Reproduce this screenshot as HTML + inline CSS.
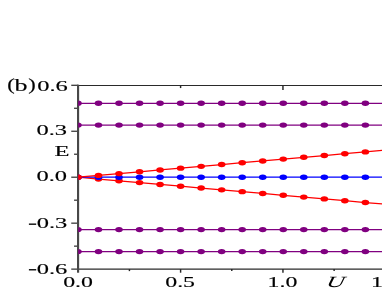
<!DOCTYPE html><html><head><meta charset="utf-8"><style>html,body{margin:0;padding:0;background:#fff;}svg{display:block}text{font-family:"Liberation Serif",serif;fill:#000}</style></head><body>
<svg width="382" height="300" viewBox="0 0 382 300">
<rect width="382" height="300" fill="#fff"/>
<g stroke="#2a2a2a" stroke-width="1.2" fill="none">
<line x1="78.25" y1="85.5" x2="382" y2="85.5" stroke-width="1.2"/>
<line x1="78.25" y1="269.0" x2="382" y2="269.0" stroke-width="1.25"/>
<line x1="71.25" y1="85.28" x2="78.25" y2="85.28"/>
<line x1="71.25" y1="131.24" x2="78.25" y2="131.24"/>
<line x1="71.25" y1="177.2" x2="78.25" y2="177.2"/>
<line x1="71.25" y1="223.15999999999997" x2="78.25" y2="223.15999999999997"/>
<line x1="71.25" y1="269.12" x2="78.25" y2="269.12"/>
<line x1="74.05" y1="108.25999999999999" x2="78.25" y2="108.25999999999999"/>
<line x1="74.05" y1="154.22" x2="78.25" y2="154.22"/>
<line x1="74.05" y1="200.17999999999998" x2="78.25" y2="200.17999999999998"/>
<line x1="74.05" y1="246.14" x2="78.25" y2="246.14"/>
</g>
<g stroke="#262626" stroke-width="1.45" fill="none">
<line x1="180.6" y1="269.12" x2="180.6" y2="272.72"/>
<line x1="282.95" y1="269.12" x2="282.95" y2="272.72"/>
<line x1="385.29999999999995" y1="269.12" x2="385.29999999999995" y2="272.72"/>
<line x1="129.425" y1="269.12" x2="129.425" y2="271.12"/>
<line x1="231.77499999999998" y1="269.12" x2="231.77499999999998" y2="271.12"/>
<line x1="334.125" y1="269.12" x2="334.125" y2="271.12"/>
<line x1="180.6" y1="85.28" x2="180.6" y2="88.08"/>
<line x1="282.95" y1="85.28" x2="282.95" y2="89.88"/>
<line x1="385.29999999999995" y1="85.28" x2="385.29999999999995" y2="88.08"/>
</g>
<line x1="78.07" y1="84.68" x2="78.07" y2="272.72" stroke="#484848" stroke-width="2.15"/>
<clipPath id="cp"><rect x="78.25" y="85.28" width="400" height="183.84"/></clipPath><g clip-path="url(#cp)">
<polyline fill="none" stroke="#800080" stroke-width="1.25" points="77.95,103.28 98.48,103.28 119.01,103.28 139.54,103.28 160.07,103.28 180.60,103.28 201.13,103.28 221.66,103.28 242.19,103.28 262.72,103.28 283.25,103.28 303.78,103.28 324.31,103.28 344.84,103.28 365.37,103.28 385.90,103.28"/>
<ellipse cx="77.95" cy="103.28" rx="3.8" ry="2.7" fill="#800080"/>
<ellipse cx="98.48" cy="103.28" rx="3.8" ry="2.7" fill="#800080"/>
<ellipse cx="119.01" cy="103.28" rx="3.8" ry="2.7" fill="#800080"/>
<ellipse cx="139.54" cy="103.28" rx="3.8" ry="2.7" fill="#800080"/>
<ellipse cx="160.07" cy="103.28" rx="3.8" ry="2.7" fill="#800080"/>
<ellipse cx="180.60" cy="103.28" rx="3.8" ry="2.7" fill="#800080"/>
<ellipse cx="201.13" cy="103.28" rx="3.8" ry="2.7" fill="#800080"/>
<ellipse cx="221.66" cy="103.28" rx="3.8" ry="2.7" fill="#800080"/>
<ellipse cx="242.19" cy="103.28" rx="3.8" ry="2.7" fill="#800080"/>
<ellipse cx="262.72" cy="103.28" rx="3.8" ry="2.7" fill="#800080"/>
<ellipse cx="283.25" cy="103.28" rx="3.8" ry="2.7" fill="#800080"/>
<ellipse cx="303.78" cy="103.28" rx="3.8" ry="2.7" fill="#800080"/>
<ellipse cx="324.31" cy="103.28" rx="3.8" ry="2.7" fill="#800080"/>
<ellipse cx="344.84" cy="103.28" rx="3.8" ry="2.7" fill="#800080"/>
<ellipse cx="365.37" cy="103.28" rx="3.8" ry="2.7" fill="#800080"/>
<ellipse cx="385.90" cy="103.28" rx="3.8" ry="2.7" fill="#800080"/>
<polyline fill="none" stroke="#800080" stroke-width="1.25" points="77.95,125.11 98.48,125.11 119.01,125.11 139.54,125.11 160.07,125.11 180.60,125.11 201.13,125.11 221.66,125.11 242.19,125.11 262.72,125.11 283.25,125.11 303.78,125.11 324.31,125.11 344.84,125.11 365.37,125.11 385.90,125.11"/>
<ellipse cx="77.95" cy="125.11" rx="3.8" ry="2.7" fill="#800080"/>
<ellipse cx="98.48" cy="125.11" rx="3.8" ry="2.7" fill="#800080"/>
<ellipse cx="119.01" cy="125.11" rx="3.8" ry="2.7" fill="#800080"/>
<ellipse cx="139.54" cy="125.11" rx="3.8" ry="2.7" fill="#800080"/>
<ellipse cx="160.07" cy="125.11" rx="3.8" ry="2.7" fill="#800080"/>
<ellipse cx="180.60" cy="125.11" rx="3.8" ry="2.7" fill="#800080"/>
<ellipse cx="201.13" cy="125.11" rx="3.8" ry="2.7" fill="#800080"/>
<ellipse cx="221.66" cy="125.11" rx="3.8" ry="2.7" fill="#800080"/>
<ellipse cx="242.19" cy="125.11" rx="3.8" ry="2.7" fill="#800080"/>
<ellipse cx="262.72" cy="125.11" rx="3.8" ry="2.7" fill="#800080"/>
<ellipse cx="283.25" cy="125.11" rx="3.8" ry="2.7" fill="#800080"/>
<ellipse cx="303.78" cy="125.11" rx="3.8" ry="2.7" fill="#800080"/>
<ellipse cx="324.31" cy="125.11" rx="3.8" ry="2.7" fill="#800080"/>
<ellipse cx="344.84" cy="125.11" rx="3.8" ry="2.7" fill="#800080"/>
<ellipse cx="365.37" cy="125.11" rx="3.8" ry="2.7" fill="#800080"/>
<ellipse cx="385.90" cy="125.11" rx="3.8" ry="2.7" fill="#800080"/>
<polyline fill="none" stroke="#800080" stroke-width="1.25" points="77.95,229.59 98.48,229.59 119.01,229.59 139.54,229.59 160.07,229.59 180.60,229.59 201.13,229.59 221.66,229.59 242.19,229.59 262.72,229.59 283.25,229.59 303.78,229.59 324.31,229.59 344.84,229.59 365.37,229.59 385.90,229.59"/>
<ellipse cx="77.95" cy="229.59" rx="3.8" ry="2.7" fill="#800080"/>
<ellipse cx="98.48" cy="229.59" rx="3.8" ry="2.7" fill="#800080"/>
<ellipse cx="119.01" cy="229.59" rx="3.8" ry="2.7" fill="#800080"/>
<ellipse cx="139.54" cy="229.59" rx="3.8" ry="2.7" fill="#800080"/>
<ellipse cx="160.07" cy="229.59" rx="3.8" ry="2.7" fill="#800080"/>
<ellipse cx="180.60" cy="229.59" rx="3.8" ry="2.7" fill="#800080"/>
<ellipse cx="201.13" cy="229.59" rx="3.8" ry="2.7" fill="#800080"/>
<ellipse cx="221.66" cy="229.59" rx="3.8" ry="2.7" fill="#800080"/>
<ellipse cx="242.19" cy="229.59" rx="3.8" ry="2.7" fill="#800080"/>
<ellipse cx="262.72" cy="229.59" rx="3.8" ry="2.7" fill="#800080"/>
<ellipse cx="283.25" cy="229.59" rx="3.8" ry="2.7" fill="#800080"/>
<ellipse cx="303.78" cy="229.59" rx="3.8" ry="2.7" fill="#800080"/>
<ellipse cx="324.31" cy="229.59" rx="3.8" ry="2.7" fill="#800080"/>
<ellipse cx="344.84" cy="229.59" rx="3.8" ry="2.7" fill="#800080"/>
<ellipse cx="365.37" cy="229.59" rx="3.8" ry="2.7" fill="#800080"/>
<ellipse cx="385.90" cy="229.59" rx="3.8" ry="2.7" fill="#800080"/>
<polyline fill="none" stroke="#800080" stroke-width="1.25" points="77.95,251.59 98.48,251.59 119.01,251.59 139.54,251.59 160.07,251.59 180.60,251.59 201.13,251.59 221.66,251.59 242.19,251.59 262.72,251.59 283.25,251.59 303.78,251.59 324.31,251.59 344.84,251.59 365.37,251.59 385.90,251.59"/>
<ellipse cx="77.95" cy="251.59" rx="3.8" ry="2.7" fill="#800080"/>
<ellipse cx="98.48" cy="251.59" rx="3.8" ry="2.7" fill="#800080"/>
<ellipse cx="119.01" cy="251.59" rx="3.8" ry="2.7" fill="#800080"/>
<ellipse cx="139.54" cy="251.59" rx="3.8" ry="2.7" fill="#800080"/>
<ellipse cx="160.07" cy="251.59" rx="3.8" ry="2.7" fill="#800080"/>
<ellipse cx="180.60" cy="251.59" rx="3.8" ry="2.7" fill="#800080"/>
<ellipse cx="201.13" cy="251.59" rx="3.8" ry="2.7" fill="#800080"/>
<ellipse cx="221.66" cy="251.59" rx="3.8" ry="2.7" fill="#800080"/>
<ellipse cx="242.19" cy="251.59" rx="3.8" ry="2.7" fill="#800080"/>
<ellipse cx="262.72" cy="251.59" rx="3.8" ry="2.7" fill="#800080"/>
<ellipse cx="283.25" cy="251.59" rx="3.8" ry="2.7" fill="#800080"/>
<ellipse cx="303.78" cy="251.59" rx="3.8" ry="2.7" fill="#800080"/>
<ellipse cx="324.31" cy="251.59" rx="3.8" ry="2.7" fill="#800080"/>
<ellipse cx="344.84" cy="251.59" rx="3.8" ry="2.7" fill="#800080"/>
<ellipse cx="365.37" cy="251.59" rx="3.8" ry="2.7" fill="#800080"/>
<ellipse cx="385.90" cy="251.59" rx="3.8" ry="2.7" fill="#800080"/>
<polyline fill="none" stroke="#ff0000" stroke-width="1.25" points="77.95,177.20 98.48,179.01 119.01,180.82 139.54,182.62 160.07,184.43 180.60,186.24 201.13,188.05 221.66,189.85 242.19,191.66 262.72,193.47 283.25,195.28 303.78,197.09 324.31,198.89 344.84,200.70 365.37,202.51 385.90,204.32"/>
<ellipse cx="77.95" cy="177.20" rx="3.8" ry="2.7" fill="#ff0000"/>
<ellipse cx="98.48" cy="179.01" rx="3.8" ry="2.7" fill="#ff0000"/>
<ellipse cx="119.01" cy="180.82" rx="3.8" ry="2.7" fill="#ff0000"/>
<ellipse cx="139.54" cy="182.62" rx="3.8" ry="2.7" fill="#ff0000"/>
<ellipse cx="160.07" cy="184.43" rx="3.8" ry="2.7" fill="#ff0000"/>
<ellipse cx="180.60" cy="186.24" rx="3.8" ry="2.7" fill="#ff0000"/>
<ellipse cx="201.13" cy="188.05" rx="3.8" ry="2.7" fill="#ff0000"/>
<ellipse cx="221.66" cy="189.85" rx="3.8" ry="2.7" fill="#ff0000"/>
<ellipse cx="242.19" cy="191.66" rx="3.8" ry="2.7" fill="#ff0000"/>
<ellipse cx="262.72" cy="193.47" rx="3.8" ry="2.7" fill="#ff0000"/>
<ellipse cx="283.25" cy="195.28" rx="3.8" ry="2.7" fill="#ff0000"/>
<ellipse cx="303.78" cy="197.09" rx="3.8" ry="2.7" fill="#ff0000"/>
<ellipse cx="324.31" cy="198.89" rx="3.8" ry="2.7" fill="#ff0000"/>
<ellipse cx="344.84" cy="200.70" rx="3.8" ry="2.7" fill="#ff0000"/>
<ellipse cx="365.37" cy="202.51" rx="3.8" ry="2.7" fill="#ff0000"/>
<ellipse cx="385.90" cy="204.32" rx="3.8" ry="2.7" fill="#ff0000"/>
<polyline fill="none" stroke="#0000ff" stroke-width="1.25" points="77.95,177.20 98.48,177.20 119.01,177.20 139.54,177.20 160.07,177.20 180.60,177.20 201.13,177.20 221.66,177.20 242.19,177.20 262.72,177.20 283.25,177.20 303.78,177.20 324.31,177.20 344.84,177.20 365.37,177.20 385.90,177.20"/>
<ellipse cx="77.95" cy="177.20" rx="3.8" ry="2.7" fill="#0000ff"/>
<ellipse cx="98.48" cy="177.20" rx="3.8" ry="2.7" fill="#0000ff"/>
<ellipse cx="119.01" cy="177.20" rx="3.8" ry="2.7" fill="#0000ff"/>
<ellipse cx="139.54" cy="177.20" rx="3.8" ry="2.7" fill="#0000ff"/>
<ellipse cx="160.07" cy="177.20" rx="3.8" ry="2.7" fill="#0000ff"/>
<ellipse cx="180.60" cy="177.20" rx="3.8" ry="2.7" fill="#0000ff"/>
<ellipse cx="201.13" cy="177.20" rx="3.8" ry="2.7" fill="#0000ff"/>
<ellipse cx="221.66" cy="177.20" rx="3.8" ry="2.7" fill="#0000ff"/>
<ellipse cx="242.19" cy="177.20" rx="3.8" ry="2.7" fill="#0000ff"/>
<ellipse cx="262.72" cy="177.20" rx="3.8" ry="2.7" fill="#0000ff"/>
<ellipse cx="283.25" cy="177.20" rx="3.8" ry="2.7" fill="#0000ff"/>
<ellipse cx="303.78" cy="177.20" rx="3.8" ry="2.7" fill="#0000ff"/>
<ellipse cx="324.31" cy="177.20" rx="3.8" ry="2.7" fill="#0000ff"/>
<ellipse cx="344.84" cy="177.20" rx="3.8" ry="2.7" fill="#0000ff"/>
<ellipse cx="365.37" cy="177.20" rx="3.8" ry="2.7" fill="#0000ff"/>
<ellipse cx="385.90" cy="177.20" rx="3.8" ry="2.7" fill="#0000ff"/>
<polyline fill="none" stroke="#ff0000" stroke-width="1.25" points="77.95,177.20 98.48,175.39 119.01,173.58 139.54,171.78 160.07,169.97 180.60,168.16 201.13,166.35 221.66,164.55 242.19,162.74 262.72,160.93 283.25,159.12 303.78,157.31 324.31,155.51 344.84,153.70 365.37,151.89 385.90,150.08"/>
<ellipse cx="77.95" cy="177.20" rx="3.8" ry="2.7" fill="#ff0000"/>
<ellipse cx="98.48" cy="175.39" rx="3.8" ry="2.7" fill="#ff0000"/>
<ellipse cx="119.01" cy="173.58" rx="3.8" ry="2.7" fill="#ff0000"/>
<ellipse cx="139.54" cy="171.78" rx="3.8" ry="2.7" fill="#ff0000"/>
<ellipse cx="160.07" cy="169.97" rx="3.8" ry="2.7" fill="#ff0000"/>
<ellipse cx="180.60" cy="168.16" rx="3.8" ry="2.7" fill="#ff0000"/>
<ellipse cx="201.13" cy="166.35" rx="3.8" ry="2.7" fill="#ff0000"/>
<ellipse cx="221.66" cy="164.55" rx="3.8" ry="2.7" fill="#ff0000"/>
<ellipse cx="242.19" cy="162.74" rx="3.8" ry="2.7" fill="#ff0000"/>
<ellipse cx="262.72" cy="160.93" rx="3.8" ry="2.7" fill="#ff0000"/>
<ellipse cx="283.25" cy="159.12" rx="3.8" ry="2.7" fill="#ff0000"/>
<ellipse cx="303.78" cy="157.31" rx="3.8" ry="2.7" fill="#ff0000"/>
<ellipse cx="324.31" cy="155.51" rx="3.8" ry="2.7" fill="#ff0000"/>
<ellipse cx="344.84" cy="153.70" rx="3.8" ry="2.7" fill="#ff0000"/>
<ellipse cx="365.37" cy="151.89" rx="3.8" ry="2.7" fill="#ff0000"/>
<ellipse cx="385.90" cy="150.08" rx="3.8" ry="2.7" fill="#ff0000"/>
</g>
<filter id="bl" x="-5%" y="-5%" width="110%" height="110%"><feGaussianBlur stdDeviation="0.3"/></filter><g filter="url(#bl)">
<text stroke="#000" stroke-width="0.15" transform="translate(7.2,89.9) scale(1.42,1)" font-size="15.8" text-anchor="start">(</text>
<text stroke="#000" stroke-width="0.15" transform="translate(14.6,91) scale(1.6,1)" font-size="16.3" text-anchor="start">b</text>
<text stroke="#000" stroke-width="0.15" transform="translate(28.2,89.9) scale(1.42,1)" font-size="15.8" text-anchor="start">)</text>
<text stroke="#000" stroke-width="0.15" transform="translate(67.8,91) scale(1.58,1)" font-size="15.5" text-anchor="end">0.6</text>
<text stroke="#000" stroke-width="0.15" transform="translate(67.1,135.2) scale(1.58,1)" font-size="15.5" text-anchor="end">0.3</text>
<text stroke="#000" stroke-width="0.15" transform="translate(67.1,181.2) scale(1.58,1)" font-size="15.5" text-anchor="end">0.0</text>
<text stroke="#000" stroke-width="0.15" transform="translate(67.3,228.1) scale(1.58,1)" font-size="15.5" text-anchor="end">0.3</text>
<text stroke="#000" stroke-width="0.15" transform="translate(67.3,273.7) scale(1.58,1)" font-size="15.5" text-anchor="end">0.6</text>
<rect x="28.9" y="223.5" width="7.3" height="1.35" fill="#000"/>
<rect x="28.9" y="269.1" width="7.3" height="1.35" fill="#000"/>
<text stroke="#000" stroke-width="0.15" transform="translate(62,155.5) scale(1.58,1)" font-size="15.5" text-anchor="middle">E</text>
<text stroke="#000" stroke-width="0.15" transform="translate(78.05,287.3) scale(1.54,1)" font-size="15.5" text-anchor="middle">0.0</text>
<text stroke="#000" stroke-width="0.15" transform="translate(180.1,287.3) scale(1.54,1)" font-size="15.5" text-anchor="middle">0.5</text>
<text stroke="#000" stroke-width="0.15" transform="translate(282.45,287.3) scale(1.54,1)" font-size="15.5" text-anchor="middle">1.0</text>
<text transform="translate(334.8,287.3) scale(1.62,1) skewX(-7)" font-size="15.5" text-anchor="middle" font-style="italic">U</text>
<text stroke="#000" stroke-width="0.15" transform="translate(385.9,287.3) scale(1.54,1)" font-size="15.5" text-anchor="middle">1.5</text>
</g></svg></body></html>
